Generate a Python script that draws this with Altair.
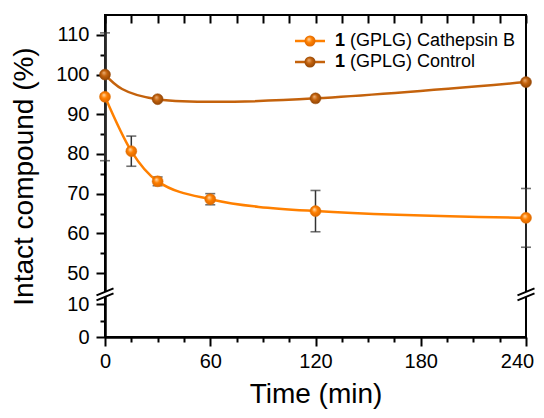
import altair as alt
import pandas as pd

# ---- data ----
time_cb = [0, 15, 30, 60, 120, 240]
cath_b = [94.4, 80.7, 73.1, 68.6, 65.6, 63.9]
cath_b_err = [16.1, 3.8, 1.1, 1.4, 5.2, 7.4]

time_ctrl = [0, 30, 120, 240]
control = [100.0, 93.8, 94.0, 98.1]

x_ticks = list(range(0, 241, 15))
y_ticks = [0, 5, 10, 50, 55, 60, 65, 70, 75, 80, 85, 90, 95, 100, 105, 110]

series_names = ["(GPLG) Cathepsin B", "(GPLG) Control"]
compound_no = "1"

FONT = "Liberation Sans"
C_CB = "#FF8000"
C_CT = "#C4620C"

cb_df = pd.DataFrame({"time": time_cb, "value": cath_b, "err": cath_b_err})
ct_df = pd.DataFrame({"time": time_ctrl, "value": control})
brk_df = pd.DataFrame({"time": [0, 240], "value": [28, 28]})

xscale = alt.Scale(domain=[0, 240], nice=False, zero=False)
yscale = alt.Scale(domain=[0, 12.5, 45, 115], range=[322, 280.75, 277.9, 0],
                   nice=False, zero=False)

y_axis = alt.Axis(
    values=y_ticks, title="Intact compound (%)",
    labelExpr="datum.value % 10 === 0 ? datum.label : ''",
    tickSize={"condition": {"test": "datum.value % 10 === 0", "value": 9}, "value": 5},
    labelFontSize=20, titleFontSize=28, labelPadding=7, titlePadding=17,
    domainWidth=2.5, tickWidth=2, labelOverlap=False, grid=False,
)
x_axis = alt.Axis(
    values=x_ticks, title="Time (min)",
    labelExpr="datum.value % 60 === 0 ? datum.label : ''",
    tickSize={"condition": {"test": "datum.value % 60 === 0", "value": 9}, "value": 5},
    labelOffset={"condition": {"test": "datum.value === 240", "value": -9}, "value": 0},
    labelFontSize=20, titleFontSize=28, labelPadding=5, titlePadding=9,
    domainWidth=2.5, tickWidth=2, labelOverlap=False, labelFlush=False, grid=False,
)
top_axis = alt.Axis(
    orient="top", values=x_ticks, labels=False, title=None, domain=False,
    tickSize=8, offset=-8, tickWidth=2, grid=False,
)

Y = alt.Y("value:Q", scale=yscale, axis=y_axis)
X_none = alt.X("time:Q", scale=xscale, axis=None)


def sphere(mid, light, dark):
    return {
        "gradient": "radial", "x1": 0.38, "y1": 0.32, "r1": 0.0,
        "x2": 0.5, "y2": 0.5, "r2": 0.55,
        "stops": [
            {"offset": 0.0, "color": light},
            {"offset": 0.45, "color": mid},
            {"offset": 1.0, "color": dark},
        ],
    }


fill_cb = sphere(C_CB, "#FFE0B8", "#D96400")
fill_ct = sphere(C_CT, "#EDB27A", "#8A4205")

# error bars
err_base = alt.Chart(cb_df).transform_calculate(
    lo="datum.value - datum.err", hi="datum.value + datum.err"
)
err_rule = err_base.mark_rule(color="#333333", strokeWidth=1.5).encode(
    x=X_none, y=alt.Y("lo:Q", scale=yscale, axis=y_axis), y2="hi:Q"
)
err_lo = err_base.mark_tick(color="#333333", size=10, thickness=1.6, orient="horizontal").encode(
    x=X_none, y=alt.Y("lo:Q", scale=yscale, axis=y_axis)
)
err_hi = err_base.mark_tick(color="#333333", size=10, thickness=1.6, orient="horizontal").encode(
    x=X_none, y=alt.Y("hi:Q", scale=yscale, axis=y_axis)
)

line_cb = alt.Chart(cb_df).mark_line(color=C_CB, strokeWidth=2.5, interpolate="monotone").encode(
    x=alt.X("time:Q", scale=xscale, axis=x_axis), y=Y
)
line_ct = alt.Chart(ct_df).mark_line(color=C_CT, strokeWidth=2.5, interpolate="natural").encode(
    x=X_none, y=Y
)
pts_cb = alt.Chart(cb_df).mark_circle(size=121, fill=fill_cb, opacity=1,
                                      stroke="#E07000", strokeWidth=0.5).encode(x=X_none, y=Y)
pts_ct = alt.Chart(ct_df).mark_circle(size=121, fill=fill_ct, opacity=1,
                                      stroke="#9A4A08", strokeWidth=0.5).encode(x=X_none, y=Y)

top_ticks = alt.Chart(cb_df).mark_point(opacity=0).encode(
    x=alt.X("time:Q", scale=xscale, axis=top_axis), y=Y
)

# axis break marks
brk_white = alt.Chart(brk_df).mark_point(
    shape="M -0.85 0.12 L 0.85 -0.58 L 0.85 -0.12 L -0.85 0.58 Z",
    size=400, filled=True, fill="white", strokeWidth=0, opacity=1,
).encode(x=X_none, y=Y)
brk_lines = alt.Chart(brk_df).mark_point(
    shape="M -0.85 0.1 L 0.85 -0.6 M -0.85 0.6 L 0.85 -0.1",
    size=400, filled=False, stroke="black", strokeWidth=2, opacity=1,
).encode(x=X_none, y=Y)

# custom legend
one = alt.Data(values=[{}])
legend_layers = []
for row_y, col, fill, name in [(26, C_CB, fill_cb, series_names[0]),
                               (47, C_CT, fill_ct, series_names[1])]:
    legend_layers += [
        alt.Chart(one).mark_rule(color=col, strokeWidth=2.5).encode(
            x=alt.value(190), x2=alt.value(220), y=alt.value(row_y)),
        alt.Chart(one).mark_circle(size=121, fill=fill, opacity=1).encode(
            x=alt.value(205), y=alt.value(row_y)),
        alt.Chart(one).mark_text(text=compound_no, font=FONT, fontSize=18, fontWeight="bold",
                                 align="left", baseline="middle", color="black").encode(
            x=alt.value(230), y=alt.value(row_y)),
        alt.Chart(one).mark_text(text=name, font=FONT, fontSize=18,
                                 align="left", baseline="middle", color="black").encode(
            x=alt.value(245), y=alt.value(row_y)),
    ]

chart = alt.layer(
    top_ticks, err_rule, err_lo, err_hi, line_ct, line_cb, pts_ct, pts_cb,
    brk_white, brk_lines, *legend_layers
).resolve_scale(x="independent").properties(
    width=421, height=322,
    autosize="none",
    padding={"left": 97, "top": 7, "right": 10, "bottom": 73},
    background="white",
).configure_view(stroke="black", strokeWidth=2).configure_axis(
    labelFont=FONT, titleFont=FONT, labelColor="black", titleColor="black",
    domainColor="black", tickColor="black", titleFontWeight="normal",
)

chart.save("out.html", embed_options={"renderer": "svg", "actions": False})
